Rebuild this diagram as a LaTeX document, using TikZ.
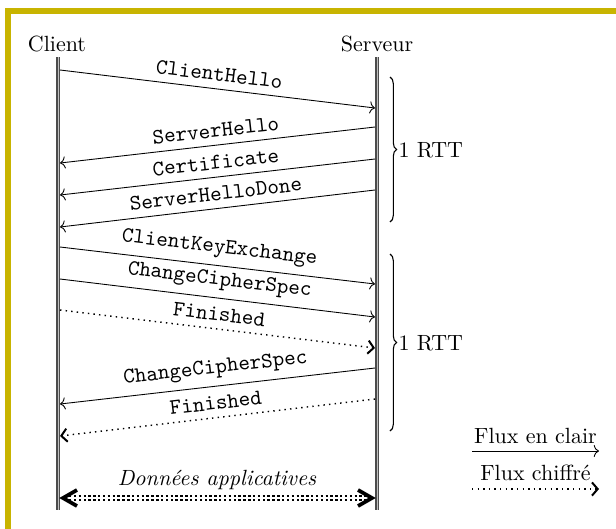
\documentclass[tikz,border=0pt]{standalone}
\usetikzlibrary{arrows.meta,decorations.pathreplacing,calc}
\definecolor{framecol}{RGB}{200,180,0}
\begin{document}
\begin{tikzpicture}[x=0.4545pt,y=-0.4545pt,
  lifeline/.style={draw=black!70, line width=0.6pt, double=black!25, double distance=0.45pt},
  msg/.style={-{To[length=2.4pt,width=5.5pt]}, line width=0.4pt},
  cmsg/.style={-{Straight Barb[length=2.6pt,width=6pt,line width=0.9pt]}, line width=0.65pt, dash pattern=on 0.65pt off 1.9pt},
  lbl/.style={sloped, above, font=\ttfamily},
  bracedeco/.style={decorate, decoration={brace, amplitude=3pt}, line width=0.5pt},
  bigtip/.style={line width=1.7pt, line join=miter, line cap=butt},
  actor/.style={inner sep=1pt}]
\useasboundingbox (0,0) rectangle (616,528);
% frame
\draw[framecol, line width=2.7pt] (8,11) rectangle (700,700);
% actors
\node[actor] (client) at (57,44) {Client};
\node[actor] (server) at (377,44) {Serveur};
\coordinate (c0) at (58,57);  \coordinate (c1) at (58,510);
\coordinate (s0) at (377,57); \coordinate (s1) at (377,510);
\draw[lifeline] (c0) -- (c1);
\draw[lifeline] (s0) -- (s1);
% message endpoints
\coordinate (m1a) at (60,70);   \coordinate (m1b) at (375,108);
\coordinate (m2a) at (375,127); \coordinate (m2b) at (60,163);
\coordinate (m3a) at (375,159); \coordinate (m3b) at (60,195);
\coordinate (m4a) at (375,190); \coordinate (m4b) at (60,227);
\coordinate (m5a) at (60,247);  \coordinate (m5b) at (375,284);
\coordinate (m6a) at (60,279);  \coordinate (m6b) at (375,317);
\coordinate (m7a) at (60,310);  \coordinate (m7b) at (375,348);
\coordinate (m8a) at (375,368); \coordinate (m8b) at (60,404);
\coordinate (m9a) at (375,399); \coordinate (m9b) at (60,436);
\draw[msg] (m1a) -- node[lbl] {ClientHello} (m1b);
\draw[msg] (m2a) -- node[lbl] {ServerHello} (m2b);
\draw[msg] (m3a) -- node[lbl] {Certificate} (m3b);
\draw[msg] (m4a) -- node[lbl] {ServerHelloDone} (m4b);
\draw[msg] (m5a) -- node[lbl] {ClientKeyExchange} (m5b);
\draw[msg] (m6a) -- node[lbl] {ChangeCipherSpec} (m6b);
\draw[cmsg] (m7a) -- node[lbl] {Finished} (m7b);
\draw[msg] (m8a) -- node[lbl] {ChangeCipherSpec} (m8b);
\draw[cmsg] (m9a) -- node[lbl] {Finished} (m9b);
% braces
\coordinate (b1t) at (390,77);  \coordinate (b1b) at (390,222);
\coordinate (b2t) at (390,254); \coordinate (b2b) at (390,431);
\draw[bracedeco] (b1t) -- (b1b);
\draw[bracedeco] (b2t) -- (b2b);
\node[anchor=west, inner sep=0.5pt] (rtt1) at ($(b1t)!0.5!(b1b)+(7,1)$) {1 RTT};
\node[anchor=west, inner sep=0.5pt] (rtt2) at ($(b2t)!0.5!(b2b)+(7,1)$) {1 RTT};
% application data
\coordinate (d1) at (63,498); \coordinate (d2) at (372,498);
\draw[line width=0.9pt, double=white, double distance=0.5pt, dash pattern=on 1.1pt off 1.1pt] ($(d1)+(6,0)$) -- ($(d2)+(-6,0)$);
\draw[bigtip] ($(d1)+(14,-8)$) -- (d1) -- ($(d1)+(14,8)$);
\draw[bigtip] ($(d2)+(-14,-8)$) -- (d2) -- ($(d2)+(-14,8)$);
\node[font=\itshape] (data) at (217,480) {Données applicatives};
% legend
\coordinate (l1a) at (472,451); \coordinate (l1b) at (599,451);
\coordinate (l2a) at (472,489); \coordinate (l2b) at (599,489);
\draw[msg] (l1a) -- node[above] {Flux en clair} (l1b);
\draw[cmsg] (l2a) -- node[above] {Flux chiffré} (l2b);
\end{tikzpicture}
\end{document}
